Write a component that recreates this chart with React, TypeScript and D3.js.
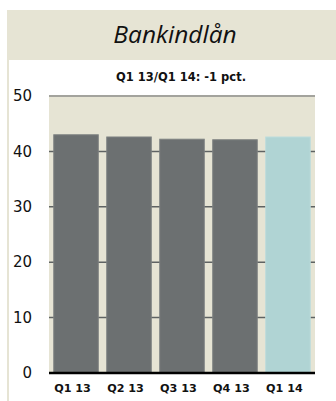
import React from "react";
import * as d3 from "d3";

const categories = ["Q1 13", "Q2 13", "Q3 13", "Q4 13", "Q1 14"];
const values = [43.0, 42.6, 42.2, 42.1, 42.6];
const yTicks = [0, 10, 20, 30, 40, 50];
const title = "Bankindlån";
const subtitle = "Q1 13/Q1 14: -1 pct.";

const W = 336;
const H = 401;
const BEIGE = "#e6e4d4";
const DARK = "#6c7071";
const LIGHT = "#b0d4d4";

export default function App() {
  const x = d3
    .scaleBand<string>()
    .domain(categories)
    .range([49, 315])
    .paddingInner(0.16)
    .paddingOuter(0.09);
  const y = d3.scaleLinear().domain([0, 50]).range([373, 96]);

  return (
    <svg
      width={W}
      height={H}
      style={{ position: "absolute", left: 0, top: 0, display: "block" }}
    >
      <rect x={0} y={0} width={W} height={H} fill="#ffffff" />
      {/* title band */}
      <rect x={7} y={10} width={W - 7} height={50} fill={BEIGE} />
      <rect x={7} y={60} width={2} height={H - 60} fill={BEIGE} />
      <text
        x={175}
        y={43}
        textAnchor="middle"
        fontFamily="'Open Sans', sans-serif"
        fontStyle="italic"
        fontSize={24.5}
        fill="#111"
      >
        {title}
      </text>
      <text
        x={181}
        y={81}
        textAnchor="middle"
        fontFamily="'DejaVu Sans', Verdana, sans-serif"
        fontWeight="bold"
        fontSize={11.5}
        fill="#111"
      >
        {subtitle}
      </text>
      {/* plot background */}
      <rect x={49} y={y(50)} width={266} height={y(0) - y(50)} fill={BEIGE} />
      {/* gridlines */}
      {yTicks
        .filter((t) => t > 0 && t < 50)
        .map((t) => (
          <line
            key={t}
            x1={49}
            x2={315}
            y1={y(t)}
            y2={y(t)}
            stroke="#5f6363"
            strokeWidth={1.5}
          />
        ))}
      <line x1={49} x2={315} y1={y(50)} y2={y(50)} stroke="#a3a39d" strokeWidth={2} />
      {/* bars */}
      {categories.map((c, i) => (
        <rect
          key={c}
          x={x(c)}
          y={y(values[i])}
          width={x.bandwidth()}
          height={y(0) - y(values[i])}
          fill={i === categories.length - 1 ? LIGHT : DARK}
          stroke={i === categories.length - 1 ? "#bcdcdc" : "#7e8282"}
          strokeWidth={1}
        />
      ))}
      {/* x axis */}
      <line x1={49} x2={315} y1={y(0)} y2={y(0)} stroke="#000" strokeWidth={2.5} />
      {yTicks.map((t) => (
        <text
          key={t}
          x={32}
          y={y(t)}
          dy="0.35em"
          textAnchor="end"
          fontFamily="'DejaVu Sans', Verdana, sans-serif"
          fontSize={15}
          fill="#111"
        >
          {t}
        </text>
      ))}
      {categories.map((c) => (
        <text
          key={c}
          x={(x(c) ?? 0) + x.bandwidth() / 2 - 3.5}
          y={391.5}
          textAnchor="middle"
          fontFamily="'DejaVu Sans', Verdana, sans-serif"
          fontWeight="bold"
          fontSize={11.2}
          fill="#111"
        >
          {c}
        </text>
      ))}
    </svg>
  );
}
